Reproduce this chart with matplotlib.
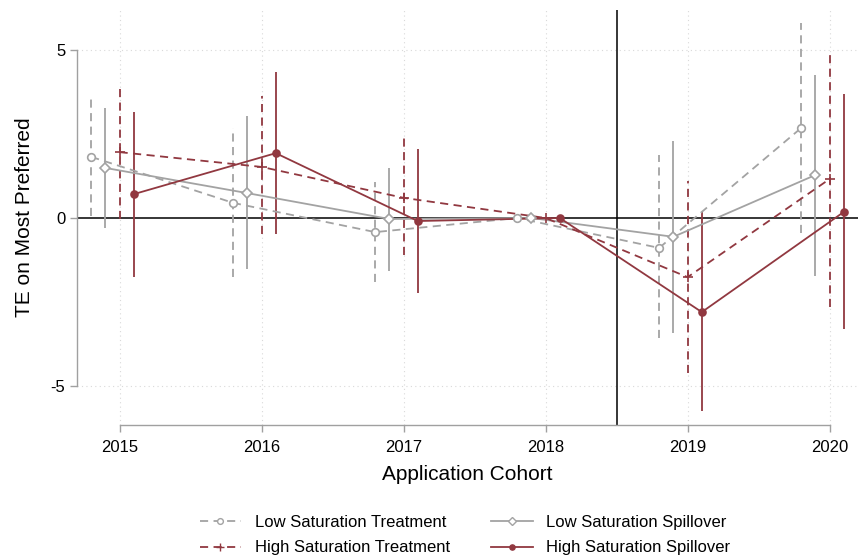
import matplotlib
matplotlib.use("Agg")
import matplotlib.pyplot as plt
import numpy as np
from matplotlib.lines import Line2D

plt.rcParams['font.family'] = ['Liberation Sans', 'DejaVu Sans']

years = [2015, 2016, 2017, 2018, 2019, 2020]

lst_est = [1.82, 0.45, -0.42, 0.0, -0.89, 2.68]
lst_lo = [0.05, -1.76, -1.90, 0.0, -3.57, -0.45]
lst_hi = [3.60, 2.68, 1.07, 0.0, 1.88, 5.80]

lss_est = [1.49, 0.74, -0.03, 0.0, -0.56, 1.28]
lss_lo = [-0.30, -1.52, -1.58, 0.0, -3.42, -1.73]
lss_hi = [3.27, 3.04, 1.49, 0.0, 2.29, 4.26]

hst_est = [1.96, 1.52, 0.60, 0.0, -1.76, 1.16]
hst_lo = [-0.03, -0.48, -1.10, 0.0, -4.60, -2.65]
hst_hi = [3.99, 3.63, 2.47, 0.0, 1.10, 4.94]

hss_est = [0.71, 1.93, -0.09, 0.0, -2.80, 0.18]
hss_lo = [-1.76, -0.48, -2.23, 0.0, -5.74, -3.30]
hss_hi = [3.15, 4.35, 2.05, 0.0, 0.18, 3.69]

labels = ["Low Saturation Treatment", "Low Saturation Spillover",
          "High Saturation Treatment", "High Saturation Spillover"]

GRAY = '#a3a3a3'
RED = '#913840'
DASH = (0, (4.5, 3))

fig = plt.figure(figsize=(8.6, 5.56), dpi=100)
ax = fig.add_axes([77/860, 1-425/556, 781/860, 415/556])

series = [
    (lst_est, lst_lo, lst_hi, -0.2, GRAY, DASH, 'o', 'white', 5.5),
    (lss_est, lss_lo, lss_hi, -0.1, GRAY, '-', 'D', 'white', 5),
    (hst_est, hst_lo, hst_hi, 0.0, RED, DASH, '+', RED, 7),
    (hss_est, hss_lo, hss_hi, 0.1, RED, '-', 'o', RED, 5),
]

# grid
for y in [-5, 5]:
    ax.axhline(y, color='#d9d9d9', lw=0.8, ls=(0, (1, 3)), zorder=0)
for x in years:
    ax.axvline(x, color='#d9d9d9', lw=0.8, ls=(0, (1, 3)), zorder=0)
ax.axhline(0, color='black', lw=1.1, zorder=1)
ax.axvline(2018.5, color='black', lw=1.1, zorder=1)

handles = []
for est, lo, hi, off, col, ls, mk, mfc, ms in series:
    xs = np.array(years) + off
    est = np.array(est); lo = np.array(lo); hi = np.array(hi)
    ax.vlines(xs, lo, hi, colors=col, linestyles=ls, lw=1.3, zorder=2)
    ax.plot(xs, est, color=col, ls=ls, lw=1.3, zorder=3)
    ax.plot(xs, est, ls='none', marker=mk, ms=ms, mfc=mfc, mec=col,
            mew=1.2, zorder=4)
    handles.append(Line2D([0], [0], color=col, ls=ls, lw=1.3, marker=mk,
                          ms=ms*0.75, mfc=mfc, mec=col, mew=1.0))

ax.set_xlim(2014.7, 2020.2)
ax.set_ylim(-6.16, 6.19)
ax.set_xticks(years)
ax.set_yticks([-5, 0, 5])
ax.set_yticklabels(['-5', '0', '5'])
for s in ['top', 'right']:
    ax.spines[s].set_visible(False)
ax.spines['left'].set_bounds(-5, 5)
ax.spines['bottom'].set_bounds(2015, 2020)
for s in ['left', 'bottom']:
    ax.spines[s].set_color('#a0a0a0')
    ax.spines[s].set_linewidth(1.0)
ax.tick_params(axis='both', colors='#a0a0a0', labelcolor='black',
               length=5, width=1.0, labelsize=12)
ax.tick_params(axis='x', pad=6)
ax.set_xlabel('Application Cohort', fontsize=15, labelpad=7)
ax.set_ylabel('TE on Most Preferred', fontsize=15, labelpad=12)

order = [0, 2, 1, 3]
fig.legend([handles[i] for i in order], [labels[i] for i in order],
           ncol=2, loc='center', bbox_to_anchor=(465/860, 1-535/556),
           frameon=False, fontsize=12, handlelength=2.5,
           handletextpad=0.8, columnspacing=2.5, labelspacing=0.65)

fig.savefig('out.png', dpi=100)
